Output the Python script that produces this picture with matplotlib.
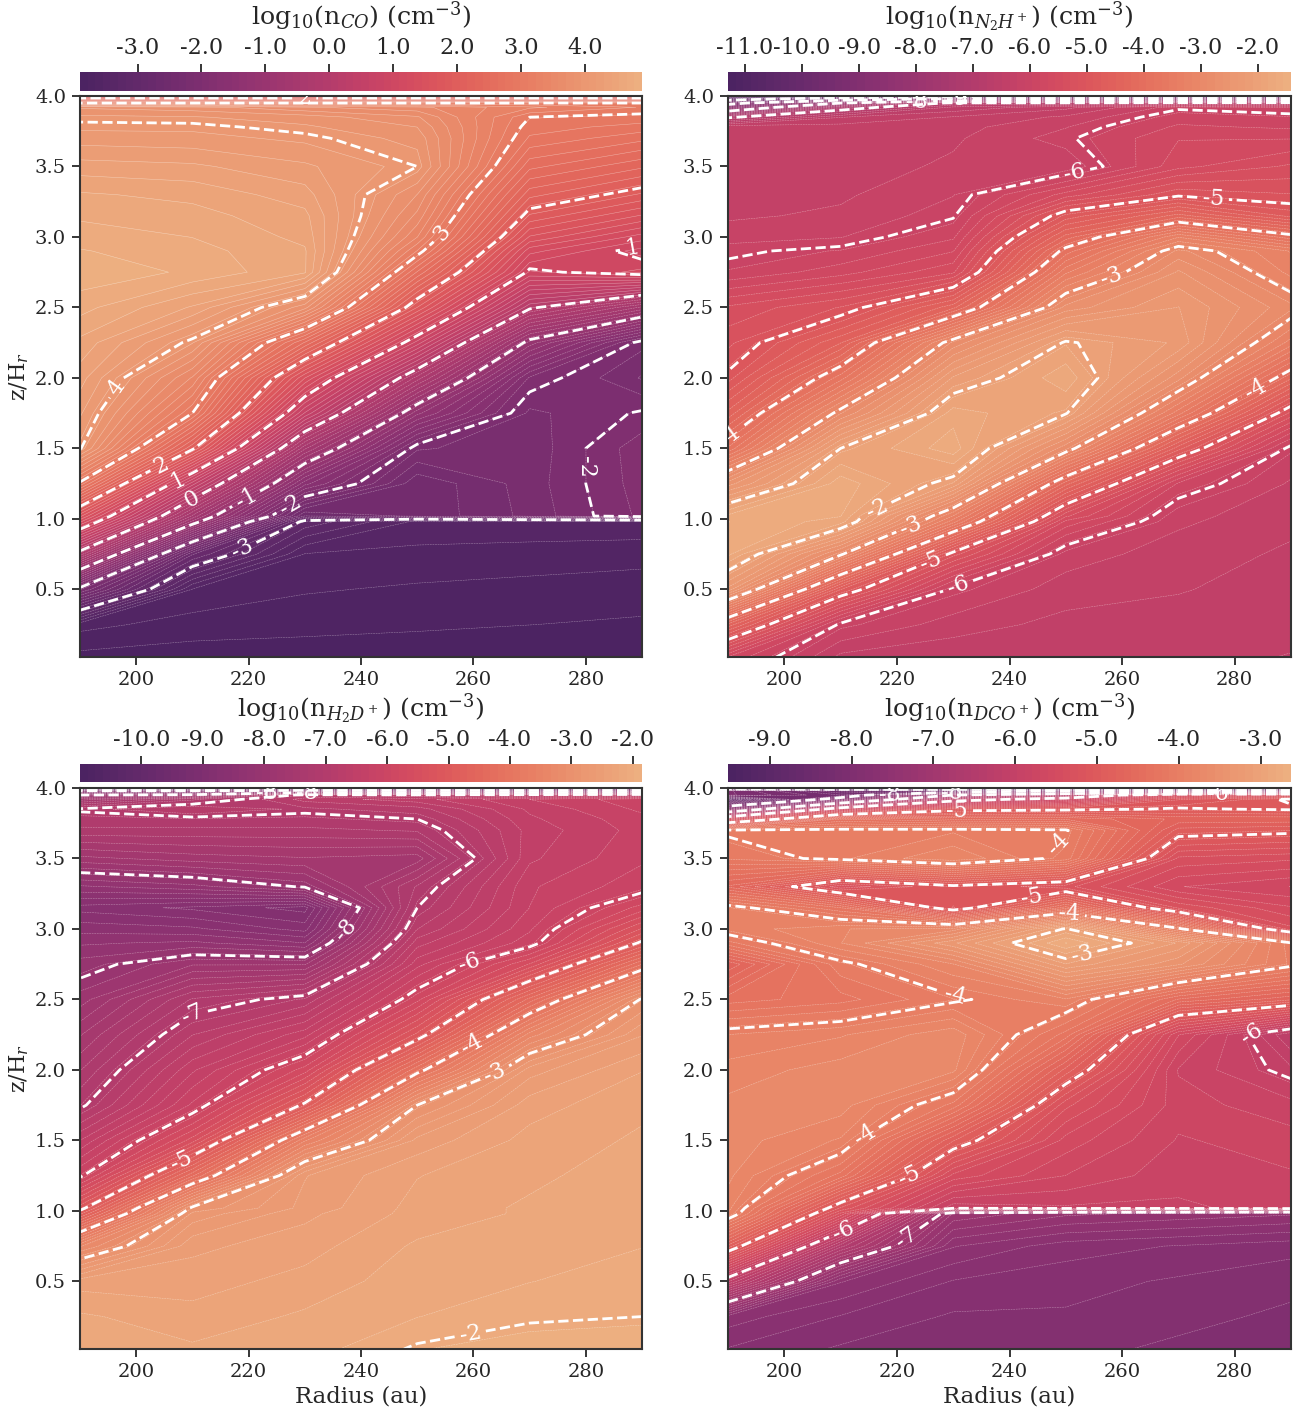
import numpy as np
import matplotlib
matplotlib.use('Agg')
import matplotlib.pyplot as plt
from matplotlib.ticker import FormatStrFormatter
import seaborn as sns

sns.set_style('ticks')
plt.rcParams['font.family'] = ['DejaVu Serif']
plt.rcParams['mathtext.fontset'] = 'dejavuserif'
plt.rcParams['axes.unicode_minus'] = False

W, H = 1301, 1409

radius = [190, 210, 230, 250, 270, 290]
z_hr = [0.02, 0.25, 0.5, 0.75, 0.98, 1.02, 1.25, 1.5, 1.75, 2.0, 2.25, 2.5, 2.75,
        2.9, 3.0, 3.15, 3.3, 3.5, 3.7, 3.78, 3.85, 3.92, 3.95, 3.98, 4.0]

# log10 densities, rows = z/Hr, columns = radius
n_co = [
    [-3.82, -3.84, -3.85, -3.86, -3.88, -3.89],
    [-3.62, -3.72, -3.74, -3.76, -3.78, -3.80],
    [-2.10, -3.55, -3.65, -3.68, -3.70, -3.72],
    [-0.15, -2.70, -3.55, -3.58, -3.60, -3.62],
    [1.35, -0.85, -3.10, -3.45, -3.45, -3.45],
    [1.60, -0.60, -2.60, -2.45, -2.20, -1.85],
    [2.95, 0.55, -1.60, -2.45, -2.18, -1.82],
    [4.02, 2.05, -0.55, -2.10, -2.20, -1.80],
    [4.20, 3.00, 0.60, -1.25, -2.15, -1.98],
    [4.35, 3.45, 1.45, -0.27, -1.90, -2.25],
    [4.50, 3.95, 2.50, 0.80, -1.10, -2.08],
    [4.70, 4.40, 3.75, 1.80, 0.05, -0.60],
    [4.85, 4.75, 4.55, 2.62, 0.95, 1.12],
    [4.78, 4.70, 4.55, 3.10, 1.25, 0.92],
    [4.72, 4.65, 4.50, 3.35, 1.55, 1.15],
    [4.63, 4.58, 4.45, 3.55, 1.90, 1.55],
    [4.55, 4.50, 4.35, 3.70, 2.20, 1.90],
    [4.35, 4.32, 4.20, 4.00, 2.55, 2.30],
    [4.12, 4.10, 4.03, 3.90, 2.85, 2.67],
    [4.03, 4.03, 3.96, 3.82, 2.93, 2.82],
    [3.97, 3.95, 3.88, 3.72, 3.00, 2.95],
    [3.80, 3.75, 3.60, 3.50, 3.25, 3.10],
    [3.00, 3.00, 3.00, 3.00, 3.00, 3.00],
    [2.15, 2.15, 2.15, 2.15, 2.15, 2.15],
    [1.60, 1.60, 1.60, 1.60, 1.60, 1.60],
]

n_n2hp = [
    [-5.70, -6.40, -6.45, -6.45, -6.45, -6.50],
    [-4.40, -6.05, -6.30, -6.40, -6.42, -6.45],
    [-2.40, -4.75, -6.05, -6.30, -6.35, -6.42],
    [-1.65, -2.95, -5.10, -6.15, -6.30, -6.38],
    [-1.55, -1.75, -3.50, -5.60, -6.20, -6.33],
    [-1.65, -1.68, -3.30, -5.40, -6.18, -6.32],
    [-2.55, -1.60, -2.10, -4.30, -5.85, -6.25],
    [-3.80, -2.00, -1.60, -2.85, -4.70, -6.07],
    [-4.45, -2.90, -1.75, -1.98, -3.50, -5.20],
    [-4.95, -3.75, -2.20, -1.72, -2.70, -4.20],
    [-5.20, -4.50, -2.85, -1.97, -2.25, -3.35],
    [-5.40, -5.15, -4.40, -2.70, -2.35, -2.85],
    [-5.95, -5.75, -5.45, -3.45, -2.60, -3.20],
    [-6.03, -5.95, -5.70, -3.90, -2.85, -3.30],
    [-6.15, -6.10, -5.85, -4.30, -3.30, -3.90],
    [-6.25, -6.20, -6.02, -4.85, -4.30, -4.80],
    [-6.30, -6.25, -6.10, -5.50, -5.05, -5.15],
    [-6.35, -6.30, -6.20, -6.20, -5.60, -5.40],
    [-6.30, -6.30, -6.25, -6.03, -5.70, -5.70],
    [-6.25, -6.30, -6.28, -6.10, -5.80, -5.85],
    [-7.05, -6.50, -6.35, -6.20, -5.90, -5.95],
    [-8.60, -7.20, -6.60, -6.40, -6.03, -6.10],
    [-9.20, -8.00, -6.90, -6.90, -6.80, -6.80],
    [-10.40, -9.50, -8.90, -8.90, -8.90, -8.90],
    [-11.20, -11.00, -10.50, -10.50, -10.50, -10.50],
]

n_h2dp = [
    [-2.10, -2.20, -2.15, -1.98, -1.92, -1.90],
    [-2.20, -2.30, -2.20, -2.10, -2.02, -2.00],
    [-2.40, -2.40, -2.30, -2.15, -2.10, -2.05],
    [-3.35, -2.50, -2.40, -2.20, -2.15, -2.10],
    [-4.85, -2.80, -2.50, -2.30, -2.20, -2.12],
    [-5.10, -2.95, -2.55, -2.30, -2.20, -2.12],
    [-6.05, -4.35, -2.60, -2.35, -2.25, -2.15],
    [-6.55, -5.50, -3.60, -2.55, -2.30, -2.20],
    [-7.05, -6.15, -4.95, -3.00, -2.40, -2.25],
    [-7.30, -6.45, -5.75, -4.10, -2.65, -2.35],
    [-7.55, -6.80, -6.35, -5.15, -3.40, -2.60],
    [-7.85, -7.15, -6.90, -5.85, -4.40, -2.97],
    [-8.10, -7.80, -7.80, -6.35, -5.55, -4.20],
    [-8.30, -8.25, -8.40, -6.60, -6.10, -4.95],
    [-8.45, -8.50, -8.70, -6.80, -6.20, -5.30],
    [-8.70, -8.80, -8.95, -7.00, -6.30, -5.75],
    [-8.30, -8.20, -7.98, -7.15, -6.32, -6.10],
    [-7.70, -7.60, -7.55, -7.60, -6.45, -6.20],
    [-7.20, -7.20, -7.20, -7.15, -6.50, -6.25],
    [-7.08, -7.05, -7.07, -7.00, -6.45, -6.22],
    [-6.97, -6.80, -6.95, -6.85, -6.40, -6.15],
    [-7.60, -7.20, -6.75, -6.60, -6.30, -6.10],
    [-8.00, -7.90, -6.90, -6.90, -6.80, -6.70],
    [-9.00, -9.00, -8.80, -8.80, -8.80, -8.80],
    [-10.50, -10.50, -10.00, -10.00, -10.00, -10.00],
]

n_dcop = [
    [-7.75, -7.85, -7.90, -7.90, -7.95, -8.00],
    [-7.60, -7.75, -7.85, -7.85, -7.90, -7.95],
    [-6.15, -7.55, -7.75, -7.80, -7.85, -7.90],
    [-4.80, -6.50, -7.55, -7.70, -7.75, -7.80],
    [-3.85, -5.35, -7.20, -7.35, -7.40, -7.45],
    [-3.80, -5.15, -5.95, -5.90, -5.90, -5.85],
    [-3.72, -4.25, -5.45, -5.70, -5.85, -5.80],
    [-3.70, -3.85, -4.85, -5.55, -5.80, -5.75],
    [-3.72, -3.70, -4.15, -5.30, -5.75, -5.85],
    [-3.80, -3.70, -3.72, -4.80, -5.80, -6.05],
    [-3.93, -3.85, -3.68, -4.25, -5.60, -6.25],
    [-4.35, -4.25, -4.03, -3.85, -4.50, -4.75],
    [-4.75, -4.05, -3.75, -3.10, -3.45, -3.95],
    [-4.15, -3.75, -3.30, -2.72, -3.20, -3.98],
    [-3.90, -3.75, -3.70, -2.98, -3.95, -5.30],
    [-3.92, -4.30, -5.15, -4.35, -5.25, -5.50],
    [-4.60, -5.30, -5.05, -5.20, -5.60, -5.70],
    [-4.10, -3.95, -3.75, -4.06, -5.35, -5.40],
    [-3.97, -3.96, -3.95, -3.98, -4.90, -4.95],
    [-5.50, -4.40, -4.50, -4.50, -4.70, -4.70],
    [-7.60, -5.70, -5.10, -5.05, -4.98, -5.02],
    [-8.90, -7.80, -6.20, -5.80, -5.15, -4.98],
    [-8.00, -8.30, -7.00, -6.50, -5.50, -5.40],
    [-8.00, -8.50, -8.50, -8.00, -8.00, -8.00],
    [-9.50, -9.50, -9.50, -9.50, -9.50, -9.50],
]

titles = [r'log$_{10}$(n$_{CO}$) (cm$^{-3}$)',
          r'log$_{10}$(n$_{N_2H^+}$) (cm$^{-3}$)',
          r'log$_{10}$(n$_{H_2D^+}$) (cm$^{-3}$)',
          r'log$_{10}$(n$_{DCO^+}$) (cm$^{-3}$)']
fields = [n_co, n_n2hp, n_h2dp, n_dcop]
vlims = [(-3.9, 4.89), (-11.3, -1.42), (-11.0, -1.85), (-9.51, -2.63)]
dash_levels = [np.arange(-3, 5), np.arange(-10, -1), np.arange(-10, -1), np.arange(-9, -2)]
cbar_ticks = [np.arange(-3, 5), np.arange(-11, -1), np.arange(-10, -1), np.arange(-9, -2)]

# where the contour labels sit (radius, z/Hr)
label_spots = [
    [(199.4, 1.85), (254, 3.04), (204.2, 1.40), (207.3, 1.28), (209.6, 1.155), (219.4, 1.155),
     (227.4, 1.10), (219, 0.77), (279.9, 1.37), (288.2, 2.92), (229.9, 3.97)],
    [(223.6, 3.95), (230.7, 3.98), (251.6, 3.45), (276.1, 3.24), (257.9, 2.745), (283.6, 1.925),
     (190.6, 1.56), (216.1, 1.10), (222.3, 0.97), (225.9, 0.72), (230.3, 0.59)],
    [(209.9, 2.41), (237.2, 3.0), (259.4, 2.75), (208.1, 1.35), (259.9, 2.17), (263.8, 1.98),
     (259.4, 0.135), (223.3, 3.95), (230.4, 3.97)],
    [(250.2, 3.54), (230.7, 2.60), (244.2, 3.18), (250.6, 3.11), (252.9, 2.81), (283.1, 2.24),
     (215.2, 1.48), (221.8, 1.29), (210.4, 0.87), (222.3, 0.78), (218.8, 3.95), (229.8, 3.96),
     (230.7, 3.84), (277, 3.95)],
]

# pixel boxes: left, right, top, bottom
ax_boxes = [(80, 642, 96, 657), (728, 1291, 96, 657), (80, 642, 788, 1349), (728, 1291, 788, 1349)]
cb_boxes = [(80, 642, 72, 91), (728, 1291, 72, 91), (80, 642, 764, 782), (728, 1291, 764, 782)]


def px_axes(fig, box):
    l, r, t, b = box
    return fig.add_axes([l / W, 1 - b / H, (r - l) / W, (b - t) / H])


fig = plt.figure(figsize=(W / 100, H / 100), dpi=100)
cmap = sns.color_palette('flare_r', as_cmap=True)
R, Z = np.meshgrid(radius, z_hr)

for i in range(4):
    ax = px_axes(fig, ax_boxes[i])
    cax = px_axes(fig, cb_boxes[i])
    data = np.array(fields[i])
    levels = np.linspace(vlims[i][0], vlims[i][1], 75)

    cf = ax.contourf(R, Z, data, levels=levels, cmap=cmap)
    ax.contour(R, Z, data, levels=levels, colors='white', linewidths=0.35, alpha=0.45)
    cs = ax.contour(R, Z, data, levels=dash_levels[i], colors='white', linewidths=2, linestyles='dashed')
    ax.set_xlim(190, 290)
    ax.set_ylim(0.02, 4.0)
    cs.clabel(manual=label_spots[i], inline=True, fontsize=16, colors='white',
              fmt=lambda v: f'{v:.0f}')

    ax.set_xticks([200, 220, 240, 260, 280])
    ax.set_yticks([0.5, 1.0, 1.5, 2.0, 2.5, 3.0, 3.5, 4.0])
    ax.tick_params(labelsize=14, length=6, width=1.3, color='.15', labelcolor='.15', pad=4)
    for sp in ax.spines.values():
        sp.set_linewidth(1.5)
        sp.set_color('.2')
    if i >= 2:
        ax.set_xlabel('Radius (au)', fontsize=16.4, labelpad=3, color='.15')
    if i % 2 == 0:
        ax.set_ylabel('z/H$_r$', fontsize=16, labelpad=3, color='.15')

    cb = fig.colorbar(cf, cax=cax, orientation='horizontal', ticks=cbar_ticks[i])
    cb.outline.set_visible(False)
    cax.xaxis.set_ticks_position('top')
    cax.xaxis.set_label_position('top')
    cax.xaxis.set_major_formatter(FormatStrFormatter('%.1f'))
    cax.minorticks_off()
    cax.tick_params(labelsize=16, length=6, width=1.3, color='.15', labelcolor='.15', pad=3)
    cb.set_label(titles[i], fontsize=18.2, labelpad=9, color='.15')

fig.savefig('out.png', dpi=100)
